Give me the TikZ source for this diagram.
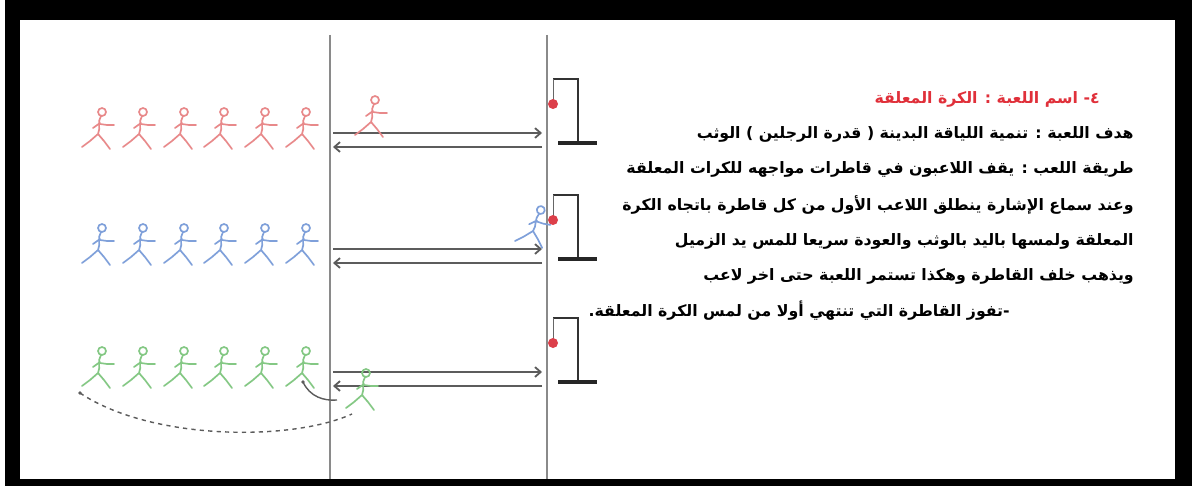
\documentclass[tikz,border=0pt]{standalone}
\usepackage{fontspec}
\newfontfamily\arabicfont[Script=Arabic]{DejaVu Sans}
\TeXXeTstate=1
\usetikzlibrary{arrows.meta}
\definecolor{runred}{HTML}{E8898A}
\definecolor{runblue}{HTML}{7FA0DA}
\definecolor{rungreen}{HTML}{84C884}
\definecolor{ballred}{HTML}{DC3F4A}
\definecolor{titlered}{HTML}{E0303A}
\definecolor{lanegray}{HTML}{8A8A8A}
\definecolor{arrowgray}{HTML}{5C5C5C}
\tikzset{lane/.style={draw=lanegray,line width=1.4pt},
 runarrow/.style={draw=arrowgray,line width=1.3pt,-{Straight Barb[length=4pt,width=7pt]}},
 gallow/.style={draw=black!80,line width=1.4pt},gallowbase/.style={draw=black!85,line width=3pt},
 cord/.style={draw=black!60,line width=.4pt},ball/.style={fill=ballred},
 loopline/.style={draw=arrowgray,line width=1pt},
 rule/.style={font={\arabicfont\bfseries\fontsize{11.2}{14}\selectfont},inner sep=0pt,anchor=east},
 runner/.pic={
  \draw[pic actions,line width=1.2pt,line cap=round,line join=round]
   (4,-22) circle[radius=4] (3,-18) .. controls (-1,-12) and (3,-6) .. (0,0)
   (2,-10) -- (9,-9) -- (16,-9) (2,-11) -- (-5,-6)
   (0,0) -- (-8,7) -- (-16,13) (0,0) -- (6,7) -- (12,15);}}
\begin{document}
\begin{tikzpicture}[x=0.025cm,y=-0.025cm]
\useasboundingbox (0,0) rectangle (1194,486);
% frame
\fill[black] (5,0) rectangle (1192,486);
\fill[white] (20,20) rectangle (1175,479);
% start line and ball line
\coordinate (s1) at (330,35); \coordinate (s2) at (330,479);
\coordinate (f1) at (547,35); \coordinate (f2) at (547,479);
\draw[lane] (s1)--(s2); \draw[lane] (f1)--(f2);
% three trains with their hanging balls
\foreach \r/\y/\c in {1/133/runred,2/249/runblue,3/372/rungreen}{
 \coordinate (go\r) at (333,\y); \coordinate (hit\r) at (542,\y);
 \coordinate (back\r) at (542,\y+14); \coordinate (home\r) at (333,\y+14);
 \draw[runarrow] (go\r)--(hit\r); \draw[runarrow] (back\r)--(home\r);
 \draw[gallow] (553,\y-54)--(578,\y-54)--(578,\y+10);
 \draw[gallowbase] (558,\y+10)--(597,\y+10);
 \draw[cord] (553,\y-54)--(553,\y-29); \fill[ball] (553,\y-29) circle[radius=5];
 \foreach \x in {98,139,180,220,261,302} \pic[draw=\c] at (\x,\y+1) {runner};
}
% first players out
\pic[draw=runred] at (371,122) {runner};
\pic[draw=runblue,rotate=-10] at (533,231) {runner};
\pic[draw=rungreen] at (362,395) {runner};
% going back behind the train
\coordinate (tail) at (80,393); \coordinate (lap) at (352,414);
\draw[loopline,dashed] (tail) .. controls (150,440) and (290,442) .. (lap);
\fill[arrowgray] (tail) circle[radius=1.8];
\coordinate (tag) at (303,382); \coordinate (tagend) at (337,400);
\draw[loopline] (tag) .. controls (310,397) and (324,401) .. (tagend);
\fill[arrowgray] (tag) circle[radius=1.8];
% rules of the game
\node[rule,text=titlered] (t1) at (1100,99) {\beginR ٤- اسم اللعبة : الكرة المعلقة\endR};
\node[rule] (t2) at (1134,134) {\beginR هدف اللعبة : تنمية اللياقة البدينة ( قدرة الرجلين ) الوثب\endR};
\node[rule] (t3) at (1134,169) {\beginR طريقة اللعب : يقف اللاعبون في قاطرات مواجهه للكرات المعلقة\endR};
\node[rule] (t4) at (1134,205) {\beginR وعند سماع الإشارة ينطلق اللاعب الأول من كل قاطرة باتجاه الكرة\endR};
\node[rule] (t5) at (1134,241) {\beginR المعلقة ولمسها باليد بالوثب والعودة سريعا للمس يد الزميل\endR};
\node[rule] (t6) at (1134,276) {\beginR ويذهب خلف القاطرة وهكذا تستمر اللعبة حتى اخر لاعب\endR};
\node[rule] (t7) at (1010,311) {\beginR -تفوز القاطرة التي تنتهي أولا من لمس الكرة المعلقة.\endR};
\end{tikzpicture}
\end{document}
